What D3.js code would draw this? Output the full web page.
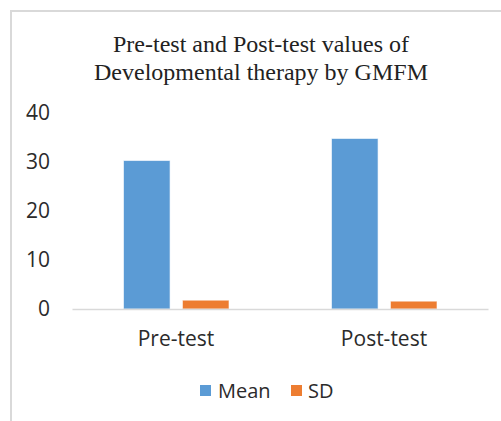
<!DOCTYPE html>
<html>
<head>
<meta charset="utf-8">
<script src="https://cdn.jsdelivr.net/npm/d3@7"></script>
<style>
  html, body { margin: 0; padding: 0; background: #fff; }
  svg { display: block; }
</style>
</head>
<body>
<div id="chart"></div>
<script>
// Data
const categories = ["Pre-test", "Post-test"];
const seriesNames = ["Mean", "SD"];
const meanValues = [30.3, 34.8];
const sdValues = [1.8, 1.6];
const yTicks = [0, 10, 20, 30, 40];
const titleLines = ["Pre-test and Post-test values of", "Developmental therapy by GMFM"];

const COLORS = { Mean: "#5B9BD5", SD: "#ED7D31" };
const W = 501, H = 421;
const AXIS_FONT = "'Open Sans', sans-serif";

const svg = d3.select("#chart").append("svg")
  .attr("width", W).attr("height", H);

// Chart frame (only top/left edges visible in the crop)
svg.append("rect")
  .attr("x", 11).attr("y", 11)
  .attr("width", W + 10).attr("height", H + 10)
  .attr("fill", "#fff")
  .attr("stroke", "#d9d9d9").attr("stroke-width", 2);

// Title
svg.append("text")
  .attr("text-anchor", "middle")
  .attr("font-family", "'Liberation Serif', 'Times New Roman', serif")
  .attr("font-size", 24)
  .attr("fill", "#222")
  .selectAll("tspan")
  .data(titleLines)
  .join("tspan")
    .attr("x", 261)
    .attr("y", (d, i) => 52 + i * 28)
    .text(d => d);

// Scales
const x0 = d3.scaleBand().domain(categories).range([72, 488]).padding(0);
const x1 = d3.scaleBand().domain(seriesNames).range([51.5, 157]).paddingInner(0.21);
const y = d3.scaleLinear().domain([0, 40]).range([309, 113]);

// Y axis labels
const yAxis = svg.append("g")
  .attr("transform", "translate(50,0)")
  .call(d3.axisLeft(y).tickValues(yTicks).tickSize(0).tickPadding(0))
  .call(ax => ax.select(".domain").remove());
yAxis.selectAll("text")
  .attr("font-family", AXIS_FONT)
  .attr("font-size", 21)
  .attr("fill", "#2b2b2b");

// Bars
const rows = categories.map((c, i) => ({ cat: c, Mean: meanValues[i], SD: sdValues[i] }));

const groups = svg.append("g").selectAll("g")
  .data(rows)
  .join("g")
    .attr("transform", d => `translate(${x0(d.cat)},0)`);

groups.selectAll("rect")
  .data(d => seriesNames.map(s => ({ key: s, value: d[s] })))
  .join("rect")
    .attr("x", d => x1(d.key))
    .attr("y", d => y(d.value))
    .attr("width", x1.bandwidth())
    .attr("height", d => y(0) - y(d.value))
    .attr("fill", d => COLORS[d.key])
    .attr("stroke", "#fff")
    .attr("stroke-opacity", 0.6)
    .attr("stroke-width", 1);

// Category axis line + labels
const xAxis = svg.append("g")
  .attr("transform", `translate(0,${y(0)})`)
  .call(d3.axisBottom(x0).tickSize(0).tickPadding(0));
xAxis.select(".domain")
  .attr("stroke", "#d9d9d9").attr("stroke-width", 1.5);
xAxis.selectAll("text")
  .attr("font-family", AXIS_FONT)
  .attr("font-size", 21)
  .attr("fill", "#2b2b2b")
  .attr("dy", 0)
  .attr("y", 37);

// Legend
const legendItems = [
  { key: "Mean", sx: 200, tx: 218 },
  { key: "SD", sx: 291, tx: 308 }
];
const lg = svg.append("g");
legendItems.forEach(it => {
  lg.append("rect")
    .attr("x", it.sx).attr("y", 385)
    .attr("width", 11).attr("height", 11)
    .attr("fill", COLORS[it.key]);
  lg.append("text")
    .attr("x", it.tx).attr("y", 398)
    .attr("font-family", AXIS_FONT)
    .attr("font-size", 20)
    .attr("fill", "#2b2b2b")
    .text(it.key);
});
</script>
</body>
</html>
